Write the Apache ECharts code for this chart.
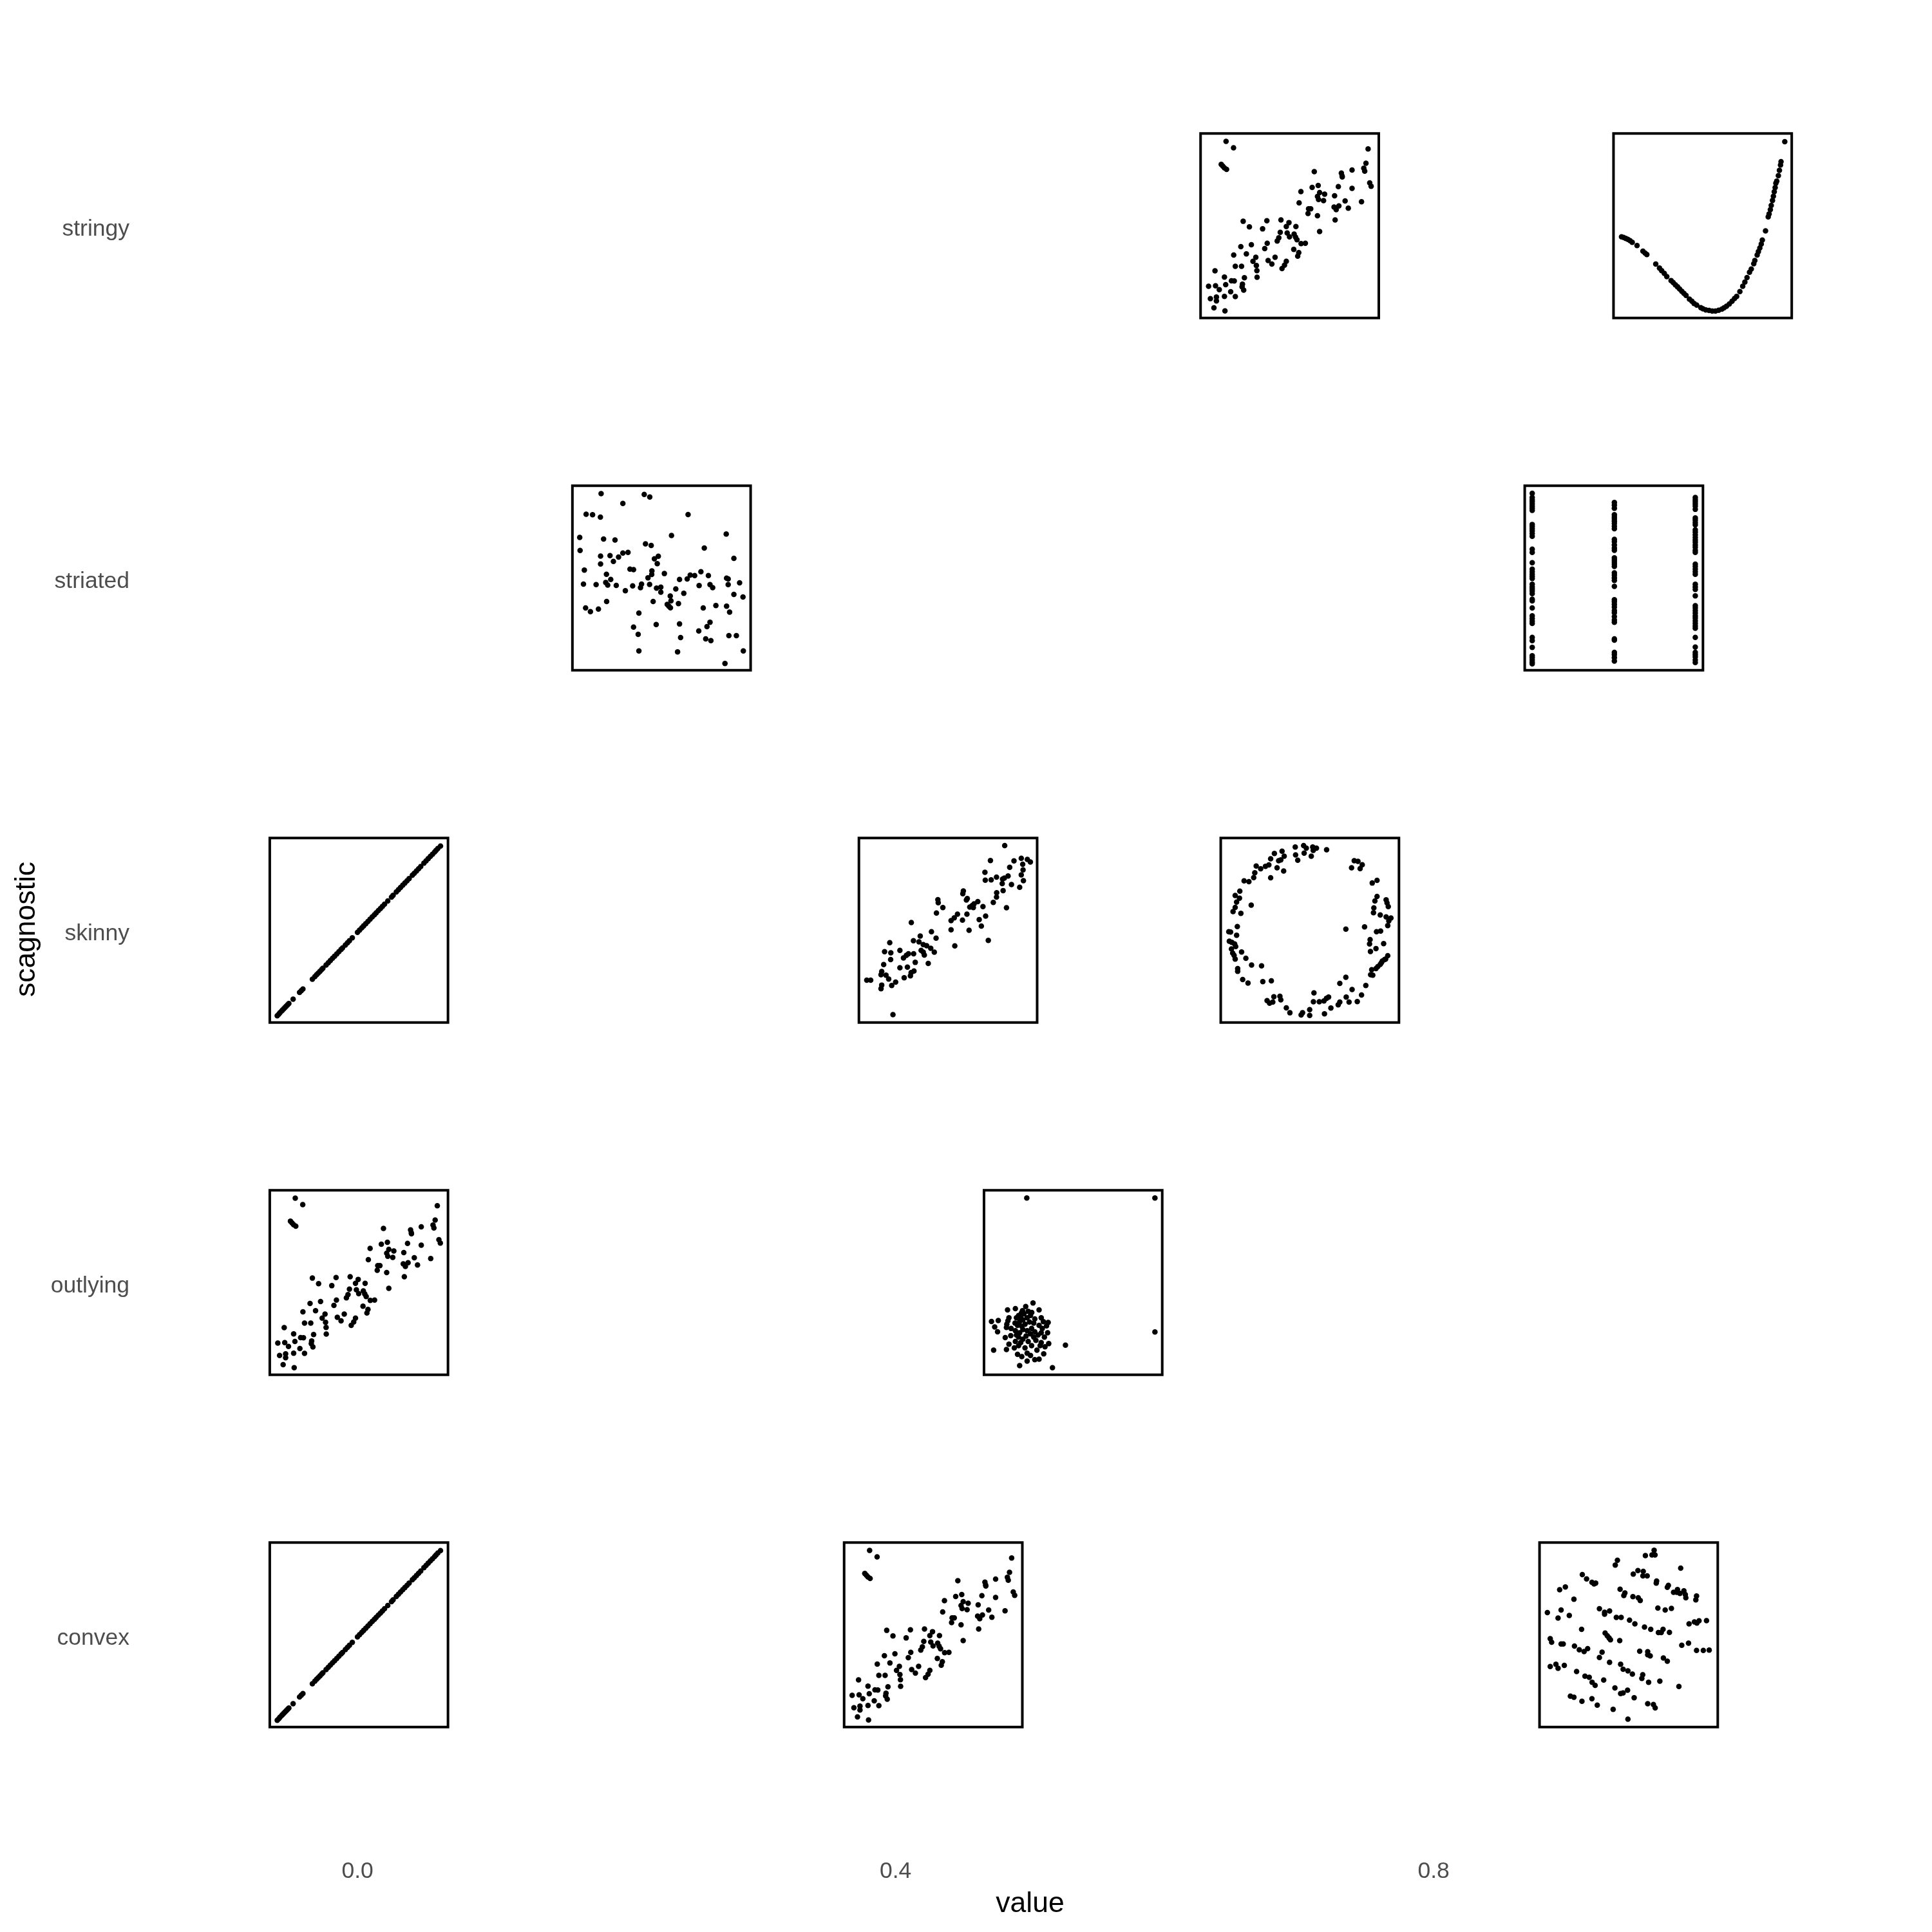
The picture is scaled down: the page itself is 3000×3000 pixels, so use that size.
<!DOCTYPE html>
<html><head><meta charset="utf-8">
<script src="https://cdn.jsdelivr.net/npm/echarts@6/dist/echarts.min.js"></script>
<style>html,body{margin:0;padding:0;background:#fff}#c{width:3000px;height:3000px}</style>
</head><body><div id="c"></div>
<script>
// main axes
const scagnostics = ['convex', 'outlying', 'skinny', 'striated', 'stringy'];
const xTicks = [0, 0.4, 0.8];

// glyph placement: scagnostic row, scagnostic value, which scatterplot
const glyphScagnostic = ['stringy', 'stringy', 'striated', 'striated', 'skinny', 'skinny', 'skinny', 'outlying', 'outlying', 'convex', 'convex', 'convex'];
const glyphValue = [0.693, 1.000, 0.226, 0.934, 0.001, 0.439, 0.708, 0.001, 0.532, 0.001, 0.428, 0.945];
const glyphPanel = ['linearOutlier', 'curve', 'noise', 'stripes', 'line', 'linear', 'ring', 'linearOutlier', 'cluster', 'line', 'linearOutlier', 'lattice'];

// scatterplot data (each on a 0-100 scale)
const lineData = [[4.2,3.7],[5.0,4.5],[5.7,5.3],[6.6,6.2],[7.2,6.8],[7.9,7.5],[8.6,8.2],[9.3,8.9],[10.0,9.6],[10.7,10.3],[13.1,12.7],[16.7,16.3],[17.7,17.3],[18.6,18.2],[23.9,23.5],[25.3,24.9],[26.3,25.9],[27.2,26.8],[28.2,27.8],[29.1,28.7],[29.8,29.4],[31.6,31.2],[32.8,32.4],[34.0,33.6],[35.2,34.8],[36.4,36.0],[37.6,37.2],[38.8,38.4],[40.0,39.6],[40.8,40.4],[42.4,42.0],[43.6,43.2],[44.7,44.3],[46.3,45.9],[49.2,48.9],[50.4,50.1],[51.6,51.3],[52.7,52.4],[53.9,53.6],[55.1,54.8],[56.3,56.0],[57.5,57.2],[58.7,58.4],[59.7,59.4],[60.9,60.6],[62.1,61.8],[63.2,62.9],[64.4,64.1],[66.2,65.9],[68.3,68.0],[69.2,68.9],[71.0,70.8],[72.2,72.0],[73.4,73.2],[74.6,74.4],[75.8,75.6],[77.0,76.8],[78.2,78.0],[80.0,79.8],[81.1,80.9],[82.3,82.1],[83.5,83.3],[84.7,84.5],[86.5,86.4],[87.7,87.6],[88.9,88.8],[90.1,90.0],[91.3,91.2],[92.5,92.4],[93.3,93.3],[94.3,94.3],[95.8,95.6]];

const linearOutlierData = [[14.3,95.7],[18.5,92.2],[11.6,83.2],[12.5,82.3],[13.4,81.3],[14.6,80.5],[94.0,91.6],[92.8,83.8],[91.6,81.1],[92.1,79.6],[94.9,73.2],[95.7,71.4],[85.0,80.2],[79.0,78.5],[79.4,77.0],[79.5,76.4],[63.8,79.3],[77.3,71.2],[85.0,70.2],[66.0,71.8],[62.6,70.8],[56.3,68.5],[66.8,68.0],[69.6,67.1],[65.6,65.9],[66.2,64.2],[69.0,63.6],[75.2,66.2],[81.1,63.4],[90.3,63.0],[55.3,62.4],[60.6,59.2],[61.8,59.2],[60.3,56.6],[65.6,55.4],[74.9,60.1],[76.1,58.7],[77.6,60.7],[82.9,59.5],[75.5,53.1],[66.8,46.9],[23.9,52.4],[27.4,49.4],[37.2,52.7],[34.8,48.3],[45.1,53.1],[49.6,51.7],[48.1,49.6],[53.5,49.6],[44.7,46.4],[48.6,46.1],[49.9,44.0],[52.5,45.5],[53.3,43.8],[54.1,42.4],[56.4,40.3],[58.8,40.5],[43.9,43.5],[43.0,41.7],[37.4,40.5],[36.0,37.6],[52.3,37.2],[55.1,35.4],[54.5,33.5],[28.5,39.7],[22.6,38.7],[25.7,34.7],[18.6,34.1],[31.0,32.9],[29.4,30.7],[31.3,28.5],[31.6,25.7],[31.7,22.1],[37.9,31.2],[40.0,29.2],[41.8,32.9],[48.1,30.7],[47.1,28.6],[45.7,26.8],[19.5,28.0],[23.0,28.0],[24.6,21.8],[8.1,25.6],[13.4,22.2],[17.3,20.2],[18.9,20.1],[14.1,18.1],[23.5,18.3],[23.3,16.9],[24.2,15.1],[4.5,17.2],[8.4,17.5],[10.5,15.4],[16.9,14.2],[13.4,11.7],[19.5,11.6],[5.5,10.5],[8.9,11.4],[8.9,9.3],[7.5,5.5],[13.7,3.9]];

const linearData = [[81.8,95.9],[73.8,87.8],[91.1,89.0],[94.5,88.4],[96.2,87.0],[91.9,85.8],[87.0,87.6],[84.6,84.1],[92.1,82.7],[91.1,80.0],[92.3,76.9],[90.2,73.3],[70.7,81.4],[70.9,77.1],[74.2,77.3],[77.2,78.8],[80.6,77.7],[81.6,78.3],[83.7,79.4],[80.4,75.3],[85.6,74.8],[80.9,71.5],[77.3,70.3],[77.2,68.0],[75.4,65.1],[82.8,62.2],[58.6,71.3],[58.3,69.8],[60.8,67.2],[60.3,66.4],[66.7,65.5],[64.6,64.3],[63.6,63.4],[62.2,62.6],[64.2,62.3],[69.6,62.8],[71.1,57.7],[67.5,55.8],[68.7,52.3],[72.6,44.5],[60.6,58.7],[55.3,58.7],[53.5,56.7],[51.7,55.2],[58.1,55.5],[51.7,50.3],[61.8,50.0],[53.8,41.5],[44.3,66.6],[44.5,64.9],[47.1,62.3],[43.5,59.3],[29.4,54.2],[40.7,49.2],[43.3,45.7],[34.4,46.9],[30.6,44.3],[33.7,43.7],[36.1,42.2],[38.0,41.6],[40.3,40.2],[42.3,38.1],[34.9,39.1],[36.1,38.1],[36.7,36.6],[30.7,37.3],[27.8,37.3],[26.6,36.4],[25.0,35.0],[23.0,39.1],[17.3,43.3],[14.4,38.4],[17.9,37.8],[17.8,34.1],[31.6,32.6],[38.9,32.0],[13.9,31.4],[23.0,29.7],[27.2,30.0],[30.9,27.9],[29.3,27.1],[28.9,25.3],[25.4,24.3],[12.8,27.7],[12.4,25.9],[15.2,25.7],[16.7,23.6],[12.8,20.3],[12.4,18.3],[18.4,20.1],[20.6,21.9],[4.4,23.0],[6.6,23.0],[19.1,4.3]];

const latticeData = [[64.3,95.8],[63.1,93.3],[64.8,93.3],[59.4,92.9],[43.7,90.4],[42.5,87.8],[79.2,86.1],[52.6,82.9],[55.2,84.8],[58.2,84.4],[58.0,81.9],[60.4,81.9],[24.0,82.6],[26.4,80.3],[29.4,78.4],[30.6,77.6],[31.5,78.0],[65.7,79.1],[65.5,78.0],[72.3,76.8],[71.7,75.7],[75.2,73.0],[77.4,74.5],[77.0,73.0],[78.8,72.4],[81.0,73.8],[81.8,71.8],[82.1,70.1],[88.1,71.0],[87.7,68.9],[11.3,74.4],[14.5,75.9],[19.3,69.3],[45.2,74.7],[47.9,72.7],[47.3,71.3],[52.4,70.7],[55.4,70.1],[56.5,68.6],[4.4,62.0],[12.1,63.4],[10.4,59.1],[16.7,60.5],[33.6,64.1],[36.5,62.2],[36.5,61.2],[39.3,62.9],[43.1,59.4],[45.8,59.4],[50.5,57.9],[53.5,55.9],[58.9,54.2],[62.4,53.0],[66.4,64.5],[70.5,63.4],[74.0,64.3],[66.7,51.2],[68.3,51.2],[69.3,53.0],[72.9,51.3],[83.9,55.9],[86.9,57.0],[88.3,56.4],[89.5,57.6],[93.7,57.7],[23.6,53.0],[36.8,51.0],[38.0,49.5],[39.0,48.3],[39.8,47.3],[45.0,46.9],[6.0,47.9],[6.8,46.0],[12.1,45.0],[13.3,45.0],[19.6,43.9],[22.3,41.9],[25.0,40.9],[27.0,42.5],[79.8,44.3],[83.6,45.5],[88.1,41.5],[91.9,41.5],[95.2,41.7],[35.1,40.6],[33.6,37.7],[56.2,41.1],[60.7,40.8],[60.7,39.2],[62.1,38.6],[69.5,37.4],[71.7,35.7],[6.0,32.8],[9.2,34.0],[10.4,31.9],[13.9,33.4],[20.8,30.1],[39.3,35.1],[45.5,34.0],[46.9,31.3],[49.6,30.5],[52.1,28.7],[57.9,28.4],[57.4,26.4],[61.2,24.3],[67.5,24.9],[78.2,22.0],[25.5,27.6],[27.9,27.0],[29.5,24.3],[31.2,22.6],[36.0,25.5],[42.3,21.2],[45.5,18.2],[46.9,18.5],[49.4,20.0],[53.1,15.9],[17.3,16.8],[19.3,16.2],[23.8,14.0],[29.4,15.4],[32.4,11.9],[41.3,9.6],[60.7,12.7],[63.9,12.2],[64.9,10.4],[49.6,4.3]];

const clusterData = [[24.0,95.8],[95.9,95.8],[95.9,23.2],[27.5,38.9],[17.6,35.9],[13.2,35.2],[23.4,37.0],[21.6,34.7],[21.0,33.5],[26.8,33.8],[30.9,35.2],[14.0,30.9],[8.0,29.4],[4.2,28.9],[6.0,25.9],[7.6,23.3],[12.8,27.4],[13.4,29.2],[12.6,25.7],[18.2,30.9],[19.4,32.1],[22.4,33.0],[21.8,29.8],[24.2,30.9],[28.5,30.3],[32.1,30.9],[33.3,28.8],[36.0,28.4],[35.1,26.5],[35.7,22.8],[17.4,28.0],[18.8,26.8],[20.0,28.8],[23.0,27.4],[25.5,28.6],[27.9,28.0],[30.9,26.8],[32.7,25.1],[17.6,23.9],[20.0,22.8],[21.8,24.5],[24.2,23.9],[26.1,22.2],[28.5,23.3],[30.3,21.6],[33.9,20.4],[11.9,20.2],[15.0,21.2],[19.4,20.4],[21.8,19.3],[24.8,18.1],[29.1,18.7],[32.1,17.5],[36.3,16.9],[34.2,15.2],[14.0,16.6],[17.0,14.6],[19.4,15.8],[23.0,14.6],[26.7,15.8],[29.7,13.4],[12.6,13.7],[5.4,13.4],[18.8,11.1],[21.2,9.9],[24.2,11.7],[26.1,10.5],[28.5,8.2],[30.9,8.5],[33.5,11.4],[24.2,7.4],[20.0,5.0],[38.4,3.9],[45.7,16.1],[31.5,15.8],[17.6,18.1],[20.6,17.5],[27.9,20.4],[23.6,21.0],[15.2,25.1],[21.2,26.3],[26.7,25.1],[18.2,21.6],[32.1,22.8],[24.8,34.4],[20.6,30.9],[26.1,32.1]];

const ringData = [[41.8,95.1],[46.5,95.9],[48.0,94.5],[51.6,95.1],[53.7,94.5],[51.9,93.3],[59.4,93.6],[46.8,91.8],[42.0,90.8],[43.2,87.9],[50.8,90.1],[34.4,92.8],[35.6,90.1],[33.7,88.1],[32.5,87.7],[30.1,91.6],[28.0,88.7],[27.0,85.4],[25.1,84.6],[22.4,83.3],[19.9,84.8],[31.6,83.8],[35.3,82.1],[28.0,78.4],[19.1,81.1],[18.5,78.5],[13.1,76.8],[15.8,76.3],[10.7,71.2],[8.1,68.8],[10.5,67.4],[8.9,65.3],[8.1,62.4],[6.9,60.1],[11.3,59.2],[17.1,63.6],[9.3,52.0],[4.5,49.2],[5.5,49.0],[8.9,47.3],[4.8,44.1],[6.2,43.5],[7.8,42.6],[8.4,41.2],[6.0,39.9],[6.7,37.6],[7.5,36.4],[8.1,34.4],[11.7,38.2],[14.1,34.8],[17.3,31.2],[22.9,30.7],[9.5,29.2],[9.5,27.8],[12.3,23.3],[15.3,21.4],[23.6,22.2],[28.4,22.6],[26.0,11.9],[27.4,10.5],[29.2,11.1],[29.8,14.0],[33.2,14.2],[33.7,12.3],[36.8,8.0],[38.8,5.3],[45.1,4.1],[45.9,5.3],[49.9,7.0],[49.9,3.9],[52.3,16.1],[52.0,11.3],[55.3,11.3],[57.9,11.7],[59.3,13.1],[60.5,13.8],[58.2,4.7],[61.8,7.9],[65.9,9.6],[66.8,11.1],[70.4,13.8],[72.0,11.1],[66.8,21.2],[70.2,24.5],[73.7,17.9],[76.6,11.4],[79.0,14.9],[81.4,20.1],[74.9,87.7],[77.0,87.3],[79.4,85.5],[78.2,83.4],[73.4,83.8],[85.0,75.6],[87.7,77.0],[87.7,68.3],[86.5,65.9],[92.8,66.5],[93.3,64.8],[94.0,62.8],[85.9,62.1],[85.7,59.5],[89.5,58.3],[92.8,57.2],[95.5,56.6],[94.3,55.1],[93.7,52.5],[80.7,51.8],[70.2,50.6],[87.4,49.2],[89.7,49.6],[83.8,44.9],[83.5,42.6],[91.4,42.8],[87.1,40.1],[84.0,38.5],[93.7,36.2],[92.5,34.4],[90.7,33.3],[89.5,31.5],[88.1,30.3],[87.1,29.2],[84.7,28.6],[85.3,25.7],[84.1,25.9],[91.9,34.1],[90.1,32.4]];

const noiseData = [[16.1,95.7],[40.3,95.3],[43.4,93.9],[28.3,90.4],[7.7,84.5],[11.3,84.3],[15.7,83.0],[64.9,84.4],[4.1,72.0],[55.6,73.0],[86.3,73.8],[17.5,71.1],[23.9,70.6],[4.3,64.9],[41.0,68.5],[44.2,67.6],[74.0,66.2],[15.8,61.9],[21.1,62.1],[25.9,61.3],[28.3,63.5],[31.2,63.9],[23.0,59.0],[15.8,57.6],[46.0,60.4],[48.2,61.8],[47.6,57.8],[90.6,60.6],[6.7,54.3],[19.1,52.0],[32.3,54.8],[34.3,54.5],[44.6,53.8],[44.5,51.9],[51.6,52.4],[42.4,50.1],[21.5,49.2],[18.7,47.6],[19.8,46.2],[6.2,46.7],[13.3,46.4],[24.6,46.0],[33.8,45.7],[38.8,46.7],[38.2,44.8],[43.3,46.5],[29.7,43.1],[47.2,44.5],[49.6,45.0],[49.6,42.3],[60.1,49.2],[64.4,49.5],[66.1,51.6],[68.6,51.3],[72.1,53.4],[76.3,51.3],[86.5,49.9],[87.4,49.5],[87.4,46.4],[93.8,47.4],[77.2,46.4],[78.7,44.8],[71.1,45.9],[58.0,44.1],[62.5,41.7],[90.6,41.1],[95.7,39.7],[54.9,40.2],[55.3,37.6],[59.5,36.1],[53.2,35.7],[54.1,34.7],[55.0,33.9],[19.2,37.3],[45.3,37.3],[7.4,33.8],[10.1,31.8],[14.6,33.2],[37.3,31.0],[73.4,33.8],[80.5,35.1],[86.5,34.7],[88.2,31.5],[34.3,23.4],[47.0,24.8],[60.1,25.1],[77.2,26.0],[75.5,23.7],[70.9,21.3],[36.9,19.5],[60.7,17.7],[74.8,17.0],[77.7,16.1],[87.8,18.8],[92.0,18.8],[37.3,10.5],[59.0,10.0],[95.9,10.5],[85.6,3.7]];

const stripesData = [[4.2,95.9],[4.2,93.6],[4.2,92.4],[4.2,91.3],[4.2,90.1],[4.2,88.9],[4.2,87.8],[4.2,86.6],[4.2,79.0],[4.2,77.9],[4.2,76.7],[4.2,75.5],[4.2,74.1],[4.2,72.6],[4.2,65.6],[4.2,63.9],[4.2,58.3],[4.2,54.8],[4.2,53.4],[4.2,52.0],[4.2,50.8],[4.2,49.7],[4.2,46.6],[4.2,45.2],[4.2,44.1],[4.2,42.9],[4.2,41.5],[4.2,38.5],[4.2,37.6],[4.2,33.8],[4.2,29.5],[4.2,28.0],[4.2,26.6],[4.2,25.4],[4.2,17.8],[4.2,16.1],[4.2,12.4],[4.2,7.9],[4.2,6.8],[4.2,5.6],[4.2,4.4],[4.2,3.5],
[50.3,90.9],[50.3,89.5],[50.3,87.8],[50.3,84.3],[50.3,83.1],[50.3,82.0],[50.3,80.8],[50.3,79.6],[50.3,78.1],[50.3,76.7],[50.3,70.9],[50.3,69.7],[50.3,67.9],[50.3,66.2],[50.3,65.0],[50.3,60.9],[50.3,59.8],[50.3,58.6],[50.3,57.5],[50.3,56.3],[50.3,52.8],[50.3,51.6],[50.3,50.1],[50.3,48.7],[50.3,45.5],[50.3,38.2],[50.3,37.1],[50.3,35.7],[50.3,34.2],[50.3,32.4],[50.3,31.2],[50.3,29.1],[50.3,27.2],[50.3,26.0],[50.3,17.0],[50.3,16.3],[50.3,9.7],[50.3,8.5],[50.3,6.8],[50.3,5.0],
[95.7,93.6],[95.7,92.4],[95.7,91.3],[95.7,90.1],[95.7,88.9],[95.7,87.2],[95.7,82.5],[95.7,81.4],[95.7,80.0],[95.7,78.8],[95.7,76.1],[95.7,74.9],[95.7,73.4],[95.7,72.0],[95.7,70.6],[95.7,69.4],[95.7,67.9],[95.7,66.7],[95.7,65.0],[95.7,63.9],[95.7,57.5],[95.7,56.3],[95.7,54.8],[95.7,53.4],[95.7,52.0],[95.7,46.6],[95.7,45.2],[95.7,43.8],[95.7,40.3],[95.7,35.0],[95.7,33.8],[95.7,32.4],[95.7,31.0],[95.7,29.5],[95.7,28.3],[95.7,26.8],[95.7,25.4],[95.7,24.0],[95.7,22.8],[95.7,17.8],[95.7,12.6],[95.7,9.7],[95.7,8.5],[95.7,7.3],[95.7,5.6],[95.7,4.2]];

const curveData = [[4.5,44.0],[5.7,43.6],[6.9,43.1],[8.1,42.6],[9.3,41.9],[10.5,41.0],[13.2,39.3],[16.5,36.2],[17.7,35.2],[18.7,34.4],[23.7,29.2],[25.8,27.1],[27.0,25.7],[28.5,24.2],[29.9,22.4],[32.3,20.3],[33.5,19.2],[34.7,18.0],[35.9,16.9],[37.1,15.7],[38.3,14.5],[39.5,13.4],[40.7,12.2],[42.6,10.2],[44.0,9.1],[45.2,7.9],[46.7,7.0],[49.0,5.6],[50.2,5.0],[51.8,4.4],[53.6,4.1],[55.4,3.8],[57.2,3.8],[59.0,4.2],[60.8,4.8],[62.0,5.5],[63.4,6.4],[65.0,7.6],[66.5,9.1],[67.9,10.6],[69.1,11.7],[70.9,14.3],[72.5,17.2],[73.7,19.5],[74.9,21.9],[76.3,24.8],[77.3,26.5],[78.7,29.4],[79.3,31.2],[80.6,34.1],[81.3,36.0],[82.1,38.0],[82.9,40.1],[83.5,42.2],[85.3,47.2],[86.8,54.8],[87.3,56.4],[88.0,58.7],[88.5,61.0],[89.2,63.7],[89.7,66.0],[90.2,68.4],[90.7,70.7],[91.1,73.0],[91.6,74.2],[92.5,77.1],[93.1,80.0],[93.7,82.9],[94.0,84.7],[96.1,95.5]];

const panels = {
  line: lineData, linearOutlier: linearOutlierData, linear: linearData,
  lattice: latticeData, cluster: clusterData, ring: ringData,
  noise: noiseData, stripes: stripesData, curve: curveData
};

const FONT = '"Liberation Sans", Arial, Helvetica, sans-serif';
const chart = echarts.init(document.getElementById('c'), null, { renderer: 'canvas' });

const mainGrid = { left: 221, right: 22, top: 75.5, bottom: 189.5, containLabel: false };
const mainX = {
  type: 'value', gridIndex: 0, min: -0.16, max: 1.16, interval: 0.04,
  axisLine: { show: false }, axisTick: { show: false }, splitLine: { show: false },
  axisLabel: {
    customValues: xTicks, formatter: v => v.toFixed(1),
    color: '#4D4D4D', fontSize: 35.5, fontFamily: FONT, margin: 78
  },
  name: 'value', nameLocation: 'middle', nameGap: 124,
  nameTextStyle: { color: '#000', fontSize: 44.5, fontFamily: FONT }
};
const mainY = {
  type: 'category', gridIndex: 0, data: scagnostics, boundaryGap: true,
  axisLine: { show: false }, axisTick: { show: false }, splitLine: { show: false },
  axisLabel: { color: '#4D4D4D', fontSize: 35.5, fontFamily: FONT, margin: 20, verticalAlign: 'top', lineHeight: 15 },
  name: 'scagnostic', nameLocation: 'middle', nameGap: 157, nameRotate: 90,
  nameTextStyle: { color: '#000', fontSize: 44.5, fontFamily: FONT }
};

chart.setOption({ animation: false, grid: [mainGrid], xAxis: [mainX], yAxis: [mainY], series: [] });

const GW = 0.1325;   // glyph width in value units
const GH = 0.524;    // glyph height as a fraction of a category band
const grids = [mainGrid], xs = [mainX], ys = [mainY], series = [];

glyphValue.forEach((v, i) => {
  const ci = scagnostics.indexOf(glyphScagnostic[i]);
  const c = chart.convertToPixel({ gridIndex: 0 }, [v, ci]);
  const xl = chart.convertToPixel({ gridIndex: 0 }, [v - GW / 2, ci])[0];
  const xr = chart.convertToPixel({ gridIndex: 0 }, [v + GW / 2, ci])[0];
  const b0 = chart.convertToPixel({ gridIndex: 0 }, [v, 0])[1];
  const b1 = chart.convertToPixel({ gridIndex: 0 }, [v, 1])[1];
  const w = xr - xl;
  const h = Math.abs(b0 - b1) * GH;
  const k = grids.length;
  grids.push({
    left: c[0] - w / 2, top: c[1] - h / 2 + 1.5, width: w, height: h,
    show: true, borderColor: '#000', borderWidth: 4, backgroundColor: 'transparent'
  });
  xs.push({ type: 'value', gridIndex: k, min: 0, max: 100, show: false });
  ys.push({ type: 'value', gridIndex: k, min: 0, max: 100, show: false });
  series.push({
    type: 'scatter', xAxisIndex: k, yAxisIndex: k, data: panels[glyphPanel[i]],
    symbol: 'circle', symbolSize: 8.5, itemStyle: { color: '#000', opacity: 1 }, silent: true, clip: false
  });
});

chart.setOption({ animation: false, grid: grids, xAxis: xs, yAxis: ys, series: series }, { notMerge: true });
</script>
</body></html>
